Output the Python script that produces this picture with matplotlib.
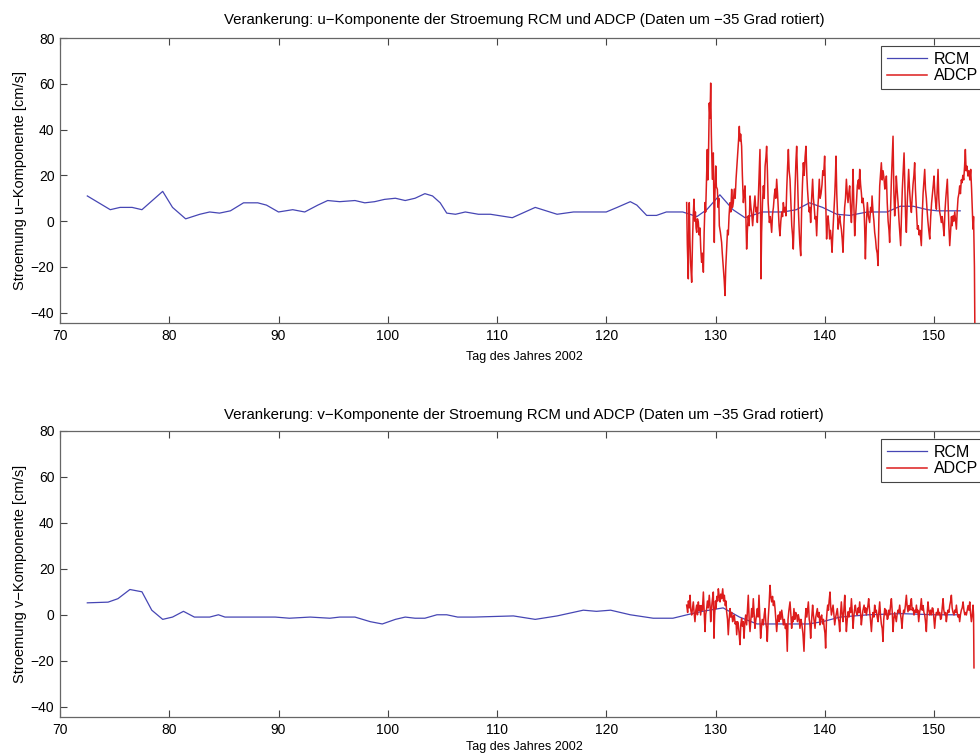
import numpy as np
import matplotlib
matplotlib.use("Agg")
import matplotlib.pyplot as plt

plt.rcParams["font.family"] = ["Liberation Sans", "DejaVu Sans"]

# RCM (Rotor Current Meter), u- and v-component [cm/s] vs. day of year 2002
rcm_u_day = [72.5, 74.6, 75.5, 76.6, 77.5, 79.4, 80.3, 81.5, 82.8, 83.7, 84.6, 85.6,
             86.8, 88.1, 88.9, 90.0, 91.3, 92.4, 93.6, 94.5, 95.6, 97.0, 97.9, 98.8,
             99.7, 100.7, 101.6, 102.5, 103.4, 104.1, 104.8, 105.4, 106.2, 107.1, 108.3,
             109.4, 111.4, 113.5, 115.5, 117.0, 118.5, 120.0, 121.0, 122.2, 122.8, 123.7,
             124.6, 125.5, 127.0, 128.3, 129.2, 130.4, 131.6, 132.7, 134.3, 136.2, 137.4,
             138.6, 139.8, 141.1, 142.3, 143.9, 145.7, 146.9, 148.1, 149.4, 150.3, 152.4]
rcm_u = [11, 5, 6, 6, 5, 13, 6, 1, 3, 4, 3.5, 4.5,
         8, 8, 7, 4, 5, 4, 7, 9, 8.5, 9, 8, 8.5,
         9.5, 10, 9, 10, 12, 11, 8, 3.5, 3, 4, 3,
         3, 1.5, 6, 3, 4, 4, 4, 6, 8.5, 7, 2.5,
         2.5, 4, 4, 2, 5, 11.5, 5, 1.5, 4, 4, 5,
         8, 6, 3, 2.5, 4, 4, 6.5, 6.5, 5, 4.5, 4.5]

rcm_v_day = [72.5, 74.4, 75.3, 76.4, 77.5, 78.4, 79.4, 80.3, 81.3, 82.3, 83.7, 84.5,
             85.1, 86.5, 89.7, 91.0, 92.9, 94.7, 95.6, 97.0, 98.4, 99.5, 100.7, 101.6,
             102.5, 103.4, 104.5, 105.4, 106.4, 107.9, 111.5, 113.5, 115.5, 117.9, 119.1,
             120.4, 122.2, 124.3, 126.1, 127.4, 128.8, 130.7, 132.2, 133.8, 135.9, 138.5,
             139.8, 141.4, 144.0, 147.0, 150.0, 152.4]
rcm_v = [5.2, 5.5, 7, 11, 10, 2, -2, -1, 1.5, -1, -1, 0,
         -1, -1, -1, -1.5, -1, -1.5, -1, -1, -3, -4, -2, -1,
         -1.5, -1.5, 0, 0, -1, -1, -0.5, -2, -0.5, 2, 1.5,
         2, 0, -1.5, -1.5, 0, 1.5, 3, -1, -4, -4, -4,
         -3, -1, 0, 0.5, 0, 0]

# ADCP, u-component: (day, cm/s)
adcp_u = [
    (127.36, 8.1), (127.42, -10), (127.51, -25.2), (127.55, -5), (127.60, 8.1), (127.66, -8),
    (127.72, -18), (127.82, -26.7), (127.90, -8), (127.96, 2), (128.03, 9.6), (128.10, 0),
    (128.16, 4), (128.22, -3), (128.28, -4.9), (128.35, 1), (128.43, -0.6), (128.50, -6),
    (128.58, -3), (128.65, -12), (128.73, -18.0), (128.80, -14), (128.89, -22.3), (128.96, -5),
    (129.04, 8.1), (129.10, 4), (129.19, 19.7), (129.25, 31.3), (129.30, 18), (129.34, 22.6),
    (129.39, 40), (129.43, 51.6), (129.50, 45), (129.56, 60.3), (129.62, 38), (129.71, 18.3),
    (129.76, 25), (129.80, 29.8), (129.85, 10), (129.89, -9.3), (129.95, 12), (130.02, 24.1),
    (130.08, 15), (130.17, 13.9), (130.24, 6), (130.30, 10), (130.35, -2.0), (130.45, -5),
    (130.56, -9.3), (130.62, -14), (130.72, -20.9), (130.80, -26), (130.87, -32.5), (130.94, -20),
    (131.02, -12.2), (131.10, -4), (131.17, -6), (131.24, 2.3), (131.32, 8), (131.40, 4),
    (131.48, 13.9), (131.55, 6), (131.63, 8.1), (131.72, 14), (131.80, 10), (131.88, 18.3),
    (131.96, 24), (132.05, 30), (132.12, 36), (132.18, 41.4), (132.24, 35), (132.30, 38),
    (132.39, 32.7), (132.46, 20), (132.55, 8.1), (132.62, 12), (132.70, 15.4), (132.78, 2),
    (132.85, -12.2), (132.92, -4), (133.00, 2.3), (133.08, -2), (133.16, 11.0), (133.24, 6),
    (133.32, 3), (133.40, -2.0), (133.50, 5), (133.61, 11.0), (133.70, 4), (133.78, 6),
    (133.83, -0.6), (133.92, 10), (134.00, 22), (134.07, 31.3), (134.12, 10), (134.16, -25.2),
    (134.22, -5), (134.30, 8), (134.38, 15.4), (134.46, 10), (134.54, 24), (134.62, 28),
    (134.68, 32.7), (134.75, 22), (134.82, 8), (134.93, -0.6), (135.02, 2), (135.14, -4.9),
    (135.22, 3), (135.30, 6), (135.38, 11.0), (135.45, 14), (135.52, 10), (135.60, 18.3),
    (135.68, 12), (135.75, 5.2), (135.82, -2), (135.90, -6.4), (135.98, 0), (136.06, 4),
    (136.14, 2), (136.21, 8.1), (136.30, 4), (136.38, 6), (136.45, 2.3), (136.52, 14),
    (136.60, 24), (136.67, 31.3), (136.74, 22), (136.82, 18.3), (136.90, 8), (136.98, -2),
    (137.05, -6), (137.12, -12.2), (137.20, 0), (137.28, 14), (137.36, 26), (137.43, 32.7),
    (137.50, 20), (137.58, 6), (137.66, -4), (137.72, -10), (137.80, -15.1), (137.88, 4),
    (137.96, 16), (138.04, 25.5), (138.12, 20), (138.20, 28), (138.28, 32.7), (138.36, 20),
    (138.42, 14), (138.50, 8.1), (138.58, 4), (138.64, 6), (138.71, -0.6), (138.80, 10),
    (138.89, 18.3), (138.96, 10), (139.04, 6), (139.11, 0.9), (139.18, 2), (139.26, -6.4),
    (139.34, 4), (139.42, 10), (139.50, 18.3), (139.58, 10), (139.66, 12), (139.75, 16),
    (139.82, 22), (139.90, 20), (139.99, 28.4), (140.06, 14), (140.12, 2), (140.17, -7.8),
    (140.24, 0), (140.30, 2.3), (140.38, -2), (140.45, -7.8), (140.52, -4), (140.60, -8),
    (140.67, -13.6), (140.75, -4), (140.85, 5.2), (140.92, 12), (140.98, 20), (141.03, 28.4),
    (141.10, 12), (141.16, 4), (141.22, -3.5), (141.30, 0), (141.37, 2.3), (141.44, -1),
    (141.52, -3.5), (141.60, -8), (141.67, -13.6), (141.75, -2), (141.82, 6), (141.90, 10),
    (141.98, 18.3), (142.06, 12), (142.13, 8.1), (142.20, 12), (142.28, 15.4), (142.36, 6),
    (142.44, -0.6), (142.52, 10), (142.59, 22.6), (142.66, 8), (142.74, -6.4), (142.82, 2),
    (142.90, 8), (142.98, 15.4), (143.08, 18), (143.14, 14), (143.20, 22.6), (143.28, 16),
    (143.35, 12.5), (143.42, 8), (143.50, 10), (143.60, 5.2), (143.66, -4), (143.72, -16.5),
    (143.80, -2), (143.90, 8.1), (144.00, 2), (144.11, -0.6), (144.20, 6), (144.28, 4),
    (144.33, 11.0), (144.42, 4), (144.50, 0), (144.57, -4.9), (144.65, -8), (144.72, -12),
    (144.80, -14), (144.88, -19.4), (144.95, 0), (145.03, 15.4), (145.10, 20), (145.18, 25.5),
    (145.26, 18), (145.34, 22), (145.43, 18.3), (145.50, 14), (145.58, 16), (145.64, 19.7),
    (145.72, 8), (145.80, 0), (145.88, -4), (145.94, -9.3), (146.02, 4), (146.10, 18),
    (146.18, 28), (146.25, 37.1), (146.32, 14), (146.40, 2.3), (146.48, 10), (146.55, 19.7),
    (146.62, 14), (146.71, 8.1), (146.80, 0), (146.88, -6), (146.95, -10.7), (147.02, 2),
    (147.10, 14), (147.18, 22), (147.26, 29.8), (147.34, 14), (147.40, 2), (147.47, -4.9),
    (147.55, 8), (147.62, 16), (147.68, 22.6), (147.76, 14), (147.84, 8), (147.93, 3.8),
    (148.00, 10), (148.08, 16), (148.16, 20), (148.23, 25.5), (148.30, 14), (148.38, 6),
    (148.48, -3.5), (148.56, -2), (148.64, -6), (148.72, -4), (148.84, -10.7), (148.92, 2),
    (149.00, 12), (149.08, 18), (149.15, 22.6), (149.22, 14), (149.30, 10), (149.36, 5.2),
    (149.44, 0), (149.52, -4), (149.61, -7.8), (149.70, 2), (149.78, 8), (149.86, 12),
    (149.94, 16), (150.00, 19.7), (150.08, 12), (150.15, 8), (150.22, 5.2), (150.30, 14),
    (150.37, 22.6), (150.44, 10), (150.52, 4), (150.60, 2), (150.67, -0.6), (150.75, 2),
    (150.84, -2), (150.92, -6.4), (151.00, 4), (151.08, 10), (151.15, 14), (151.22, 18.3),
    (151.30, 6), (151.36, -2), (151.44, -10.7), (151.52, -4), (151.60, 2), (151.66, -2),
    (151.74, 2.3), (151.82, 0), (151.90, 4), (151.98, 0), (152.05, -3.5), (152.12, 4),
    (152.20, 10), (152.28, 12), (152.35, 15.4), (152.42, 12), (152.50, 18), (152.57, 16.8),
    (152.64, 20), (152.72, 18), (152.80, 24), (152.87, 31.3), (152.94, 22), (153.02, 24),
    (153.11, 19.7), (153.20, 22), (153.28, 18), (153.36, 22.6), (153.44, 14), (153.50, 6),
    (153.57, -3.5), (153.62, 2), (153.66, -9.3), (153.70, -20), (153.76, -60),
]

# ADCP, v-component: (day, cm/s)
adcp_v = [
    (127.36, 4.2), (127.45, 1), (127.52, 6), (127.60, 3), (127.67, 8.5), (127.74, 2),
    (127.82, -0.1), (127.90, 3), (127.97, 5.6), (128.04, 1), (128.12, -3.0), (128.20, 2),
    (128.28, 4.2), (128.35, 0), (128.43, 5.6), (128.50, 2), (128.58, 4), (128.64, -0.1),
    (128.72, 4), (128.80, 2), (128.89, 9.9), (128.96, 2), (129.04, -7.3), (129.10, 0),
    (129.19, 2.7), (129.26, 6), (129.34, 3), (129.43, 8.5), (129.50, 4), (129.56, -3.0),
    (129.62, 2), (129.70, 6), (129.80, 9.9), (129.86, -10.2), (129.92, 0), (130.00, 6),
    (130.05, 2.7), (130.12, 8), (130.20, 6), (130.26, 11.3), (130.34, 8), (130.41, 5.6),
    (130.48, 9), (130.56, 7), (130.66, 11.3), (130.74, 6), (130.81, 8.5), (130.90, 4),
    (130.96, 6), (131.02, 1.3), (131.10, -2), (131.17, -8.7), (131.25, -2), (131.33, 2.7),
    (131.40, -1), (131.48, 1), (131.57, -3.0), (131.64, -1), (131.72, -0.1), (131.80, -4),
    (131.88, -3), (131.94, -8.7), (132.02, -3), (132.09, -4.4), (132.16, -8), (132.24, -13.0),
    (132.32, -4), (132.39, -1.6), (132.46, -5), (132.54, -3), (132.61, -10.2), (132.68, -4),
    (132.76, -0.1), (132.80, -2), (132.85, -4.4), (132.92, 2), (133.00, 8.5), (133.08, -2),
    (133.16, -7.3), (133.24, -2), (133.31, 2.7), (133.38, -1), (133.46, 7.0), (133.54, 0),
    (133.61, -5.9), (133.70, -2), (133.76, 0), (133.83, 2.7), (133.90, -1), (133.98, 8.5),
    (134.06, -2), (134.13, -10.2), (134.20, -6), (134.28, -2), (134.38, -4.4), (134.46, 0),
    (134.53, 2.7), (134.62, -4), (134.68, -6), (134.74, -11.6), (134.82, -2), (134.90, 4),
    (134.99, 12.8), (135.06, 8), (135.14, 5.6), (135.22, 8), (135.30, 4), (135.38, 6),
    (135.45, 2.7), (135.52, -2), (135.60, -7.3), (135.68, -2), (135.75, -0.1), (135.82, -3),
    (135.90, 1.3), (135.98, -2), (136.06, 2), (136.14, -1), (136.21, -4.4), (136.30, -2),
    (136.40, -6), (136.48, -4), (136.57, -15.9), (136.64, -2), (136.72, 2), (136.82, 5.6),
    (136.90, 0), (136.97, -5.9), (137.04, -1), (137.10, -3), (137.18, 2.7), (137.26, -2),
    (137.34, 1), (137.43, -0.1), (137.50, -3), (137.58, 0), (137.66, -2), (137.73, -5.9),
    (137.82, -2), (137.90, -4), (138.00, -8), (138.10, -15.9), (138.18, -4), (138.28, 2.7),
    (138.36, -1), (138.42, 2), (138.50, 5.6), (138.58, -2), (138.64, -4), (138.71, -10.2),
    (138.80, -2), (138.89, 4.2), (138.96, 0), (139.04, -3), (139.11, -5.9), (139.18, -1),
    (139.26, 1), (139.32, 2.7), (139.40, -1), (139.48, 1), (139.56, -4.4), (139.64, -1),
    (139.72, -0.1), (139.80, -4), (139.88, -2), (139.96, -6), (140.02, -8), (140.08, -14.5),
    (140.16, -2), (140.22, 2), (140.27, 4.2), (140.34, 2), (140.40, 6), (140.48, 9.9),
    (140.54, 4), (140.61, -0.1), (140.68, 2), (140.76, 4.2), (140.84, 0), (140.91, -4.4),
    (141.00, -1), (141.08, 1), (141.15, 2.7), (141.22, -1), (141.30, -3), (141.37, -7.3),
    (141.44, 0), (141.52, 5.6), (141.60, 0), (141.67, -3.0), (141.75, 2), (141.83, 8.5),
    (141.90, 0), (141.98, -7.3), (142.06, -2), (142.13, 1.3), (142.22, -1), (142.30, 3),
    (142.37, 1), (142.44, 7.0), (142.52, 1), (142.59, -5.9), (142.66, -1), (142.72, 2),
    (142.80, 4.2), (142.88, 1), (142.98, -0.1), (143.06, 3), (143.12, 1), (143.20, 5.6),
    (143.28, 0), (143.35, -4.4), (143.42, -1), (143.50, 2), (143.60, 4.2), (143.68, 1),
    (143.74, 3), (143.81, -0.1), (143.88, 2), (143.95, 4), (144.02, 7.0), (144.10, 2),
    (144.18, -2), (144.27, -7.3), (144.34, -2), (144.42, 1), (144.50, -1), (144.57, 4.2),
    (144.64, 1), (144.72, 2), (144.80, -1), (144.88, -3.0), (144.95, 1), (145.03, 5.6),
    (145.10, 0), (145.18, -4), (145.26, -6), (145.33, -11.6), (145.40, -2), (145.49, 2.7),
    (145.56, 0), (145.64, 2), (145.72, -2), (145.79, -1.6), (145.86, 2), (145.94, 0),
    (146.02, 4), (146.10, 7.0), (146.18, 1), (146.25, -7.3), (146.32, -2), (146.40, 1),
    (146.48, -1), (146.55, -3.0), (146.62, 0), (146.70, 2), (146.78, 1), (146.86, 4.2),
    (146.94, 0), (147.00, -2), (147.07, -5.9), (147.14, -1), (147.22, 2), (147.30, 1),
    (147.38, 4), (147.47, 8.5), (147.54, 4), (147.62, 1.3), (147.70, 4), (147.78, 2),
    (147.86, 5), (147.93, 7.0), (148.00, 2), (148.08, 3), (148.17, -0.1), (148.24, 2),
    (148.32, 1), (148.39, 4.2), (148.46, 1), (148.52, 2), (148.60, -3.0), (148.68, 1),
    (148.76, 3), (148.84, 7.0), (148.92, 2), (149.00, 4), (149.08, 1), (149.15, -0.1),
    (149.22, -3), (149.30, -7.3), (149.38, 1), (149.45, 5.6), (149.52, 2), (149.61, -0.1),
    (149.68, 2), (149.76, 0), (149.84, 3), (149.91, 2.7), (149.98, -1), (150.06, -5.9),
    (150.14, -1), (150.22, 1), (150.30, 0), (150.37, 2.7), (150.44, 0), (150.52, 1),
    (150.60, -2), (150.67, -1.6), (150.75, 3), (150.83, 7.0), (150.90, 2), (150.98, 0),
    (151.06, 1), (151.13, -3.0), (151.20, 0), (151.28, 2), (151.36, 1), (151.44, 4),
    (151.52, 6), (151.59, 8.5), (151.66, 3), (151.74, 1), (151.83, -0.1), (151.90, 2),
    (151.98, 1), (152.05, 4.2), (152.12, 1), (152.20, -1), (152.28, 0), (152.35, -3.0),
    (152.42, 0), (152.50, 2), (152.58, 3), (152.66, 5.6), (152.74, 2), (152.82, 0),
    (152.90, 1), (152.96, -0.1), (153.04, 2), (153.12, 4), (153.20, 2), (153.27, 5.6),
    (153.34, 1), (153.42, -3.0), (153.50, 0), (153.57, 4.2), (153.62, 0), (153.66, -23.1),
]

titles = ["Verankerung: u\u2212Komponente der Stroemung RCM und ADCP (Daten um \u221235 Grad rotiert)",
          "Verankerung: v\u2212Komponente der Stroemung RCM und ADCP (Daten um \u221235 Grad rotiert)"]
ylabels = ["Stroemung u\u2212Komponente [cm/s]", "Stroemung v\u2212Komponente [cm/s]"]
xlabel = "Tag des Jahres 2002"

W, H = 980, 756
fig = plt.figure(figsize=(W / 100, H / 100), dpi=100)

# axes boxes in pixels; the right edge runs a little past the figure
ax_left = 60
ax_right = 60 + 85 * 10.925
boxes = [(38, 323), (431, 717)]

series = [(rcm_u_day, rcm_u, adcp_u), (rcm_v_day, rcm_v, adcp_v)]

for i, (top, bot) in enumerate(boxes):
    ax = fig.add_axes([ax_left / W, 1 - bot / H, (ax_right - ax_left) / W, (bot - top) / H])
    rd, rv, adcp = series[i]
    ad, av = zip(*adcp)
    ax.plot(rd, rv, color="#4646b4", lw=0.9, label="RCM", zorder=2)
    ax.plot(ad, av, color="#dd1c1c", lw=1.1, label="ADCP", zorder=3)
    ax.set_xlim(70, 155)
    ax.set_ylim(-44.5, 80)
    ax.set_xticks(np.arange(70, 151, 10))
    ax.set_yticks(np.arange(-40, 81, 20))
    ax.set_yticklabels(["\u221240", "\u221220", "0", "20", "40", "60", "80"])
    ax.tick_params(direction="in", top=True, right=True, length=5, width=0.8,
                   labelsize=10, colors="#444444", labelcolor="black", pad=4)
    for s in ax.spines.values():
        s.set_color("#666666")
        s.set_linewidth(0.9)
    ax.set_title(titles[i], fontsize=10.8, pad=10 if i == 0 else 9)
    ax.set_ylabel(ylabels[i], fontsize=10.5, labelpad=3)
    ax.set_xlabel(xlabel, fontsize=9, labelpad=6 if i == 0 else 3)
    leg = ax.legend(loc="upper right",
                    bbox_to_anchor=((984 - ax_left) / (ax_right - ax_left), 1 - 8 / (bot - top)),
                    borderaxespad=0, fancybox=False, framealpha=1, edgecolor="#444444",
                    fontsize=11.5, handlelength=2.5, handletextpad=0.45, borderpad=0.35,
                    labelspacing=0.1)
    leg.get_frame().set_linewidth(0.8)

fig.savefig("out.png", dpi=100)
